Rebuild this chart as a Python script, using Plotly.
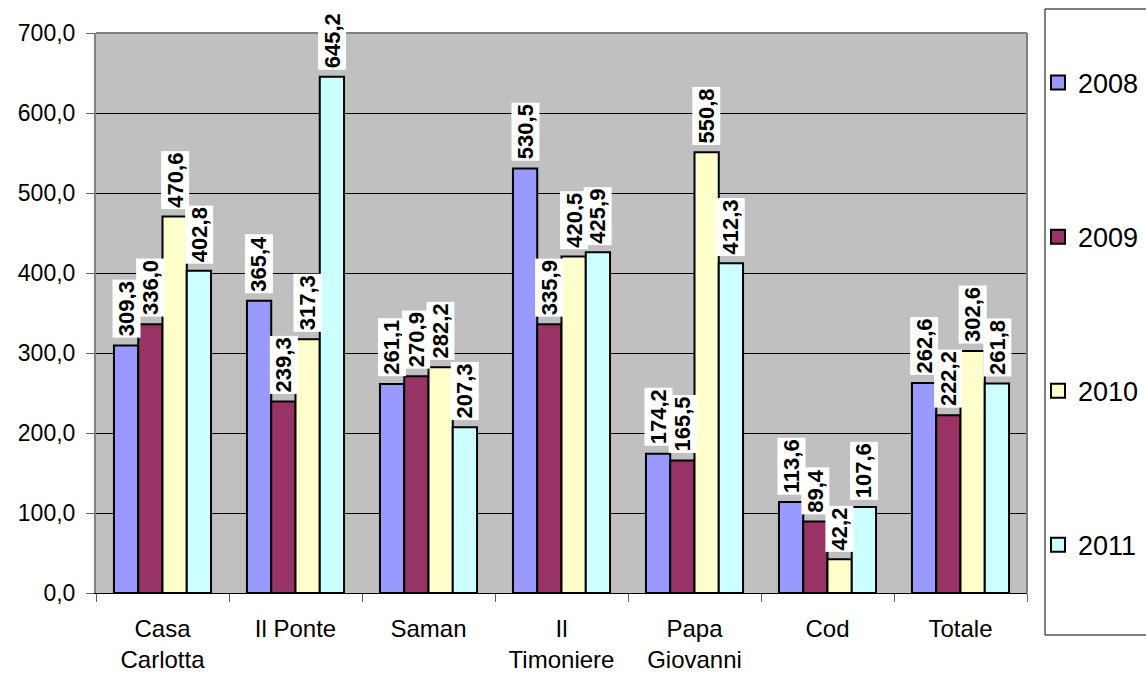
import plotly.graph_objects as go

# Categories (structures) and yearly values
categories = ["Casa<br>Carlotta", "Il Ponte", "Saman", "Il<br>Timoniere",
              "Papa<br>Giovanni", "Cod", "Totale"]
years = ["2008", "2009", "2010", "2011"]
values_2008 = [309.3, 365.4, 261.1, 530.5, 174.2, 113.6, 262.6]
values_2009 = [336.0, 239.3, 270.9, 335.9, 165.5, 89.4, 222.2]
values_2010 = [470.6, 317.3, 282.2, 420.5, 550.8, 42.2, 302.6]
values_2011 = [402.8, 645.2, 207.3, 425.9, 412.3, 107.6, 261.8]
y_ticks = [0, 100, 200, 300, 400, 500, 600, 700]

series = [values_2008, values_2009, values_2010, values_2011]
colors = ["#9999FF", "#993366", "#FFFFCC", "#CCFFFF"]

FONT = "Arial, Liberation Sans, sans-serif"
BARGAP = 0.27

# plot-area geometry in pixels
W, H = 1146, 673
L, R, T, B = 96, 119, 33, 80
PW, PH = W - L - R, H - T - B


def px_x(px):
    return (px - L) / PW


def px_y(py):
    return (H - B - py) / PH


fig = go.Figure()
for name, vals, col in zip(years, series, colors):
    fig.add_trace(go.Bar(
        x=categories, y=vals, name=name,
        legendgroup=name, showlegend=False,
        marker=dict(color=col, line=dict(color="black", width=2)),
    ))
    # legend key: square swatch with a heavy black outline
    fig.add_trace(go.Scatter(
        x=[None], y=[None], mode="markers", name=name,
        legendgroup=name, showlegend=True, hoverinfo="skip",
        marker=dict(symbol="square", size=14, color=col,
                    line=dict(color="black", width=2)),
    ))

# Value labels: rotated, bold, on a white box above each bar
n = len(series)
slot = (1 - BARGAP) / n
annotations = []
for j, vals in enumerate(series):
    for i, v in enumerate(vals):
        annotations.append(dict(
            x=i + (j - (n - 1) / 2) * slot, y=v, xref="x", yref="y",
            text=f"{v:.1f}".replace(".", ","),
            textangle=-90, showarrow=False,
            xanchor="center", yanchor="bottom", yshift=7,
            bgcolor="white", borderpad=1,
            font=dict(family=FONT, size=22, color="black", weight="bold"),
        ))

# Plot-area frame (top, right) and legend box
shapes = [
    dict(type="line", xref="paper", yref="paper", x0=0, x1=1, y0=1, y1=1,
         line=dict(color="#808080", width=2)),
    dict(type="line", xref="paper", yref="paper", x0=1, x1=1, y0=0, y1=1,
         line=dict(color="#808080", width=2)),
    dict(type="rect", xref="paper", yref="paper",
         x0=px_x(1045), x1=px_x(1160),
         y0=px_y(635), y1=px_y(9),
         line=dict(color="black", width=1), fillcolor="rgba(0,0,0,0)"),
]

fig.update_layout(
    width=W, height=H,
    margin=dict(l=L, r=R, t=T, b=B, autoexpand=False),
    paper_bgcolor="white", plot_bgcolor="#C0C0C0",
    barmode="group", bargap=BARGAP, bargroupgap=0,
    separators=",.",
    font=dict(family=FONT, color="black"),
    showlegend=True,
    legend=dict(
        x=px_x(1038), xanchor="left",
        y=px_y(314), yanchor="middle",
        traceorder="grouped", tracegroupgap=116,
        itemsizing="trace",
        font=dict(family=FONT, size=27, color="black"),
        bgcolor="rgba(0,0,0,0)", borderwidth=0,
    ),
    annotations=annotations,
    shapes=shapes,
)

fig.update_xaxes(
    type="category",
    showline=True, linecolor="black", linewidth=1,
    ticks="outside", tickson="boundaries", ticklen=8,
    tickcolor="#606060", tickwidth=1,
    ticklabelstandoff=14,
    tickfont=dict(family=FONT, size=24, color="black"),
    showgrid=False,
)
fig.update_yaxes(
    range=[0, 700], tickvals=y_ticks, tickformat=".1f",
    showline=True, linecolor="#808080", linewidth=2,
    ticks="outside", ticklen=8, tickcolor="#606060", tickwidth=1,
    ticklabelstandoff=6,
    tickfont=dict(family=FONT, size=23, color="black"),
    showgrid=True, gridcolor="black", gridwidth=1,
    zeroline=True, zerolinecolor="black", zerolinewidth=1,
)

fig.write_html("out.html")
